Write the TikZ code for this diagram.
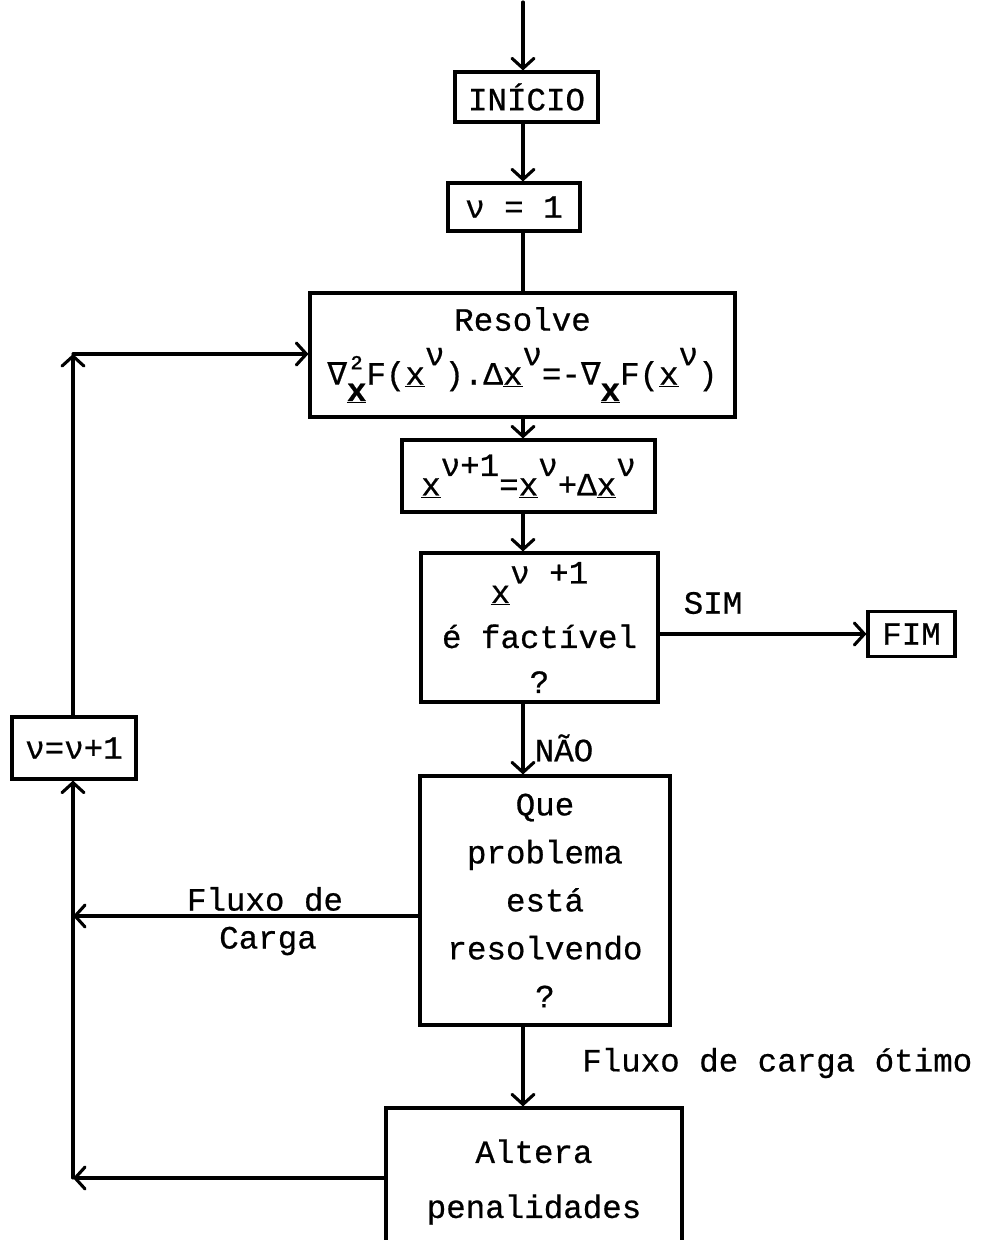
\documentclass[tikz,border=0pt]{standalone}
\usepackage{fontspec}
\setmainfont{Liberation Mono}[FakeBold=0.6]
\newfontfamily\dvm{DejaVu Sans Mono}[FakeBold=0.4]
\usetikzlibrary{arrows.meta}
\newcommand{\ux}{\underline{x}}
\newcommand{\ubx}{\underline{\textbf{x}}}
\newcommand{\sps}[1]{\raisebox{0.6em}{#1}}
\newcommand{\nab}{{\dvm ∇}}
\newcommand{\nabsq}{\nab\rlap{\raisebox{0.2em}{\fontsize{32}{32}\selectfont ²}}\raisebox{-0.5em}{\ubx}}
\newcommand{\nabsub}{\nab\raisebox{-0.5em}{\ubx}}
\tikzset{
  box/.style={draw, line width=3.1pt, inner sep=0pt, align=center},
  conn/.style={line width=3.1pt, line cap=round},
  arr/.style={conn, -{Straight Barb[length=10pt,width=22pt,line cap=round]}},
  lbl/.style={inner sep=0pt},
  txt/.style={font=\fontsize{32.5}{#1}\selectfont},
  txt/.default=48
}
\begin{document}
\begin{tikzpicture}[x=1pt,y=-1pt]
\useasboundingbox[fill=white] (0,0) rectangle (992,1240);
\coordinate (col) at (523,0);
\coordinate (start) at (523,2);
\node[box, txt, minimum width=143, minimum height=50] (inicio) at (526.5,97) {INÍCIO};
\node[box, txt, minimum width=132, minimum height=48] (nu1) at (514,207) {ν = 1};
\node[box, txt=48, minimum width=425, minimum height=124] (resolve) at (522.5,355)
  {Resolve\\[6pt]\nabsq F(\ux\sps{ν}).Δ\ux\sps{ν}=-\nabsub F(\ux\sps{ν})};
\node[box, txt, minimum width=253, minimum height=72] (update) at (528.5,476)
  {\raisebox{-6pt}{\ux\sps{ν+1}=\ux\sps{ν}+Δ\ux\sps{ν}}};
\node[box, txt=45, minimum width=237, minimum height=149] (feas) at (539.5,627.5)
  {\ux\sps{ν +1}\\é factível\\?};
\node[box, txt, minimum width=87, minimum height=45] (fim) at (911.5,634) {FIM};
\node[box, txt=48, minimum width=250, minimum height=249] (que) at (545,900.5)
  {Que\\problema\\está\\resolvendo\\?};
\node[box, txt=55, minimum width=296, minimum height=148] (altera) at (534,1182)
  {Altera\\penalidades};
\node[box, txt, minimum width=124, minimum height=62] (incr) at (74,748) {ν=ν+1};
\coordinate (corner) at (73,354);
\coordinate (j1) at (73,916);
\coordinate (j2) at (73,1178);
% labels
\node[lbl, txt] (sim) at (713,603) {SIM};
\node[lbl, txt] (nao) at (564,748) {NÃO};
\node[lbl, txt] (fc1) at (265,899) {Fluxo de};
\node[lbl, txt] (fc2) at (268,941) {Carga};
\node[lbl, txt, anchor=west] (fco) at (582,1063) {Fluxo de carga ótimo};
% connectors
\draw[arr] (start) -- (inicio.north -| col);
\draw[arr] (inicio.south -| col) -- (nu1.north -| col);
\draw[conn] (nu1.south -| col) -- (resolve.north -| col);
\draw[arr] (resolve.south -| col) -- (update.north -| col);
\draw[arr] (update.south -| col) -- (feas.north -| col);
\draw[arr] (feas.east |- fim) -- (fim.west);
\draw[arr] (feas.south -| col) -- (que.north -| col);
\draw[arr] (que.south -| col) -- (altera.north -| col);
\draw[arr] (que.west |- j1) -- (j1);
\draw[arr] (altera.west |- j2) -- (j2);
\draw[arr] (j2) -- (incr.south -| j2);
\draw[arr] (incr.north -| corner) -- (corner);
\draw[arr] (corner) -- (resolve.west |- corner);
\end{tikzpicture}
\end{document}
